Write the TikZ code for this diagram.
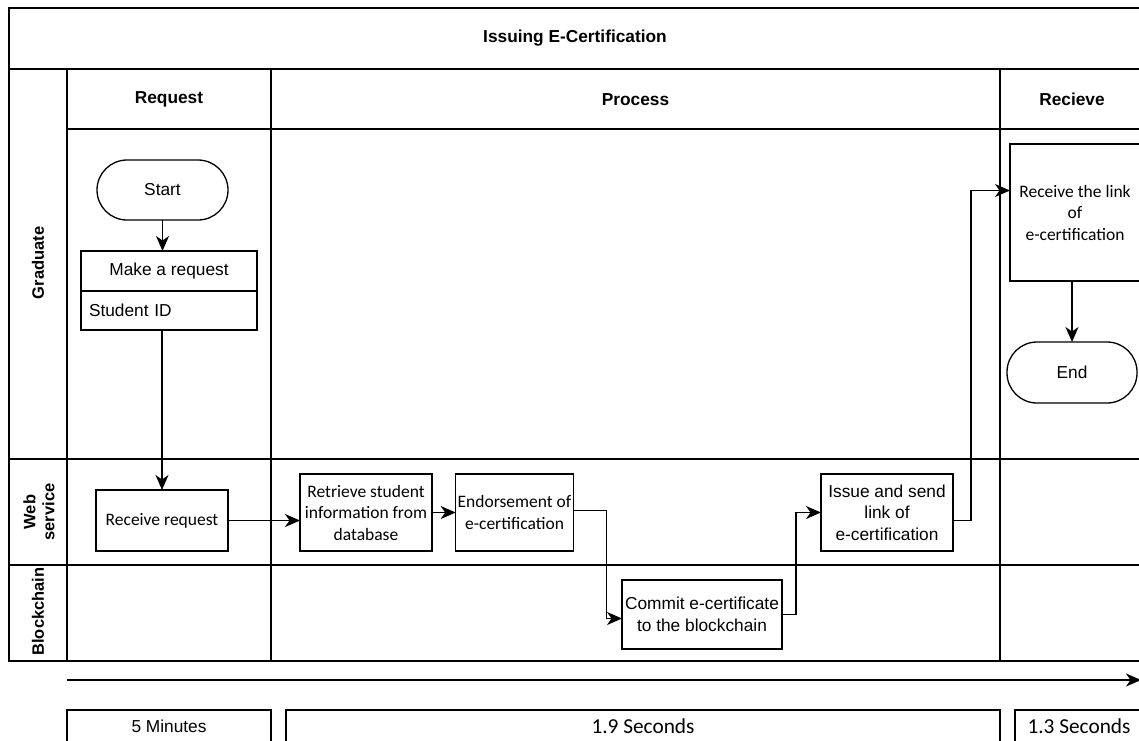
\documentclass[tikz,border=0pt]{standalone}
\usepackage{fontspec}
\setmainfont{Liberation Sans}
\newfontfamily\calfont{Carlito}
\usetikzlibrary{arrows.meta}
\newcommand\dgfs{\fontsize{17.3}{21.5}\selectfont}
\newcommand\dgcal{\calfont\fontsize{17.5}{21.5}\selectfont}
\newcommand\dgcalbig{\calfont\fontsize{21.3}{24}\selectfont}
\newcommand\dghd{\bfseries\fontsize{17.3}{20}\selectfont}
\newcommand\dglane{\bfseries\fontsize{16.5}{19}\selectfont}
\begin{document}
\begin{tikzpicture}[x=1pt,y=-1pt,
  frame/.style={line width=1.3pt},
  box/.style={draw, line width=1.3pt, outer sep=0pt, inner sep=2pt, align=center, font=\dgfs},
  calbox/.style={box, font=\dgcal},
  term/.style={box, rounded corners=30pt},
  hdr/.style={font=\dghd, align=center},
  lane/.style={font=\dglane, align=center, rotate=90},
  arr/.style={line width=1.3pt, -{Stealth[length=15pt,width=13pt,inset=4.5pt]}}
]
\useasboundingbox (0,0) rectangle (1139,740);
\fill[white] (0,0) rectangle (1139,740);

% frame
\draw[frame] (9,8) rectangle (1144,661);
\draw[frame] (9,69) -- (1144,69);
\draw[frame] (67,69) -- (67,661);
\draw[frame] (67,129) -- (1144,129);
\draw[frame] (9,459) -- (1144,459);
\draw[frame] (9,565) -- (1144,565);
\draw[frame] (271,69) -- (271,661);
\draw[frame] (1000,69) -- (1000,661);

% headers
\node[hdr] (title) at (575,38.5) {Issuing E-Certification};
\node[hdr] (hreq) at (169,99.5) {Request};
\node[hdr] (hproc) at (635.5,99.5) {Process};
\node[hdr] (hrec) at (1072,99.5) {Recieve};
\node[lane] (lgrad) at (38,263) {Graduate};
\node[lane] (lweb) at (39,512) {Web\\service};
\node[lane] (lblock) at (38,611.5) {Blockchain};

% nodes
\node[term, minimum width=131pt, minimum height=60pt] (start) at (162.5,190) {Start};
\node[box, minimum width=176pt, minimum height=40pt] (mreq) at (169,271) {Make a request};
\node[box, minimum width=176pt, minimum height=39pt, anchor=north, text width=160pt, inner xsep=8pt, align=left] (sid) at (mreq.south) {Student ID};
\node[calbox, minimum width=132pt, minimum height=61pt] (recv) at (162,520.5) {Receive request};
\node[calbox, minimum width=132pt, minimum height=77pt] (retr) at (366,512.5) {Retrieve student\\information from\\database};
\node[calbox, minimum width=117pt, minimum height=77pt] (endo) at (514.5,512.5) {Endorsement of\\e-certification};
\node[box, minimum width=160pt, minimum height=69pt] (commit) at (702,614.5) {Commit e-certificate\\to the blockchain};
\node[box, minimum width=132pt, minimum height=77pt] (issue) at (887,512.5) {Issue and send\\link of\\e-certification};
\node[calbox, minimum width=130pt, minimum height=137pt] (link) at (1075,212.5) {Receive the link\\of\\e-certification};
\node[term, minimum width=130pt, minimum height=61pt] (end) at (1072,372.5) {End};

% connectors
\draw[arr] (start.south) -- (start.south |- mreq.north);
\draw[arr] (recv.north |- sid.south) -- (recv.north);
\draw[arr] (recv.east) -- (recv.east -| retr.west);
\draw[arr] (retr) -- (endo);
\draw[arr] ([yshift=2pt]endo.east) -- ++(33,0) |- ([yshift=-4pt]commit.west);
\draw[arr] (commit.east) -- ++(14,0) |- (issue.west);
\draw[arr] ([yshift=-8pt]issue.east) -- ++(18,0) |- ([yshift=22pt]link.west);
\draw[arr] (end.north |- link.south) -- (end.north);

% timeline
\coordinate (tl0) at (67,680);
\coordinate (tl1) at (1141,680);
\draw[arr] (tl0) -- (tl1);
\node[box, minimum width=204pt, minimum height=32pt, anchor=north west] (t1) at (67,710) {5 Minutes};
\node[box, font=\dgcalbig, minimum width=714pt, minimum height=32pt, anchor=north west] (t2) at (286,710) {1.9 Seconds};
\node[box, font=\dgcalbig, minimum width=128pt, minimum height=32pt, anchor=north west] (t3) at (1015,710) {1.3 Seconds};
\end{tikzpicture}
\end{document}
